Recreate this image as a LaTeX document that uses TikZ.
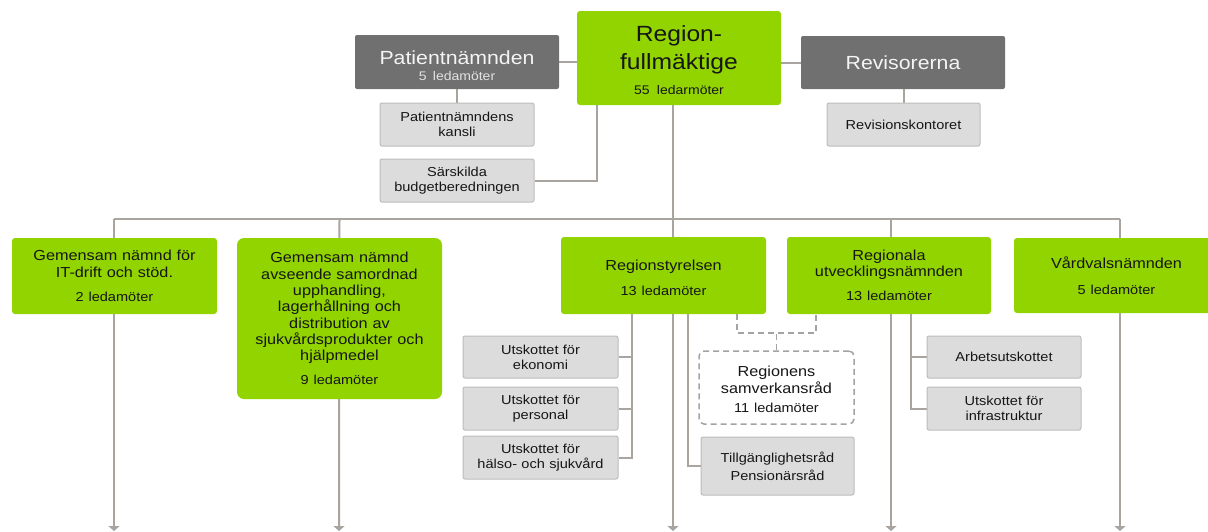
\documentclass[tikz,border=0pt]{standalone}
\usepackage{fontspec}
\setmainfont{Liberation Sans}[FakeStretch=1.12]
\usetikzlibrary{arrows.meta,backgrounds}
\definecolor{grn}{HTML}{92D400}
\definecolor{dgr}{HTML}{707070}
\definecolor{lgr}{HTML}{DCDCDC}
\definecolor{lgb}{HTML}{BDBDBD}
\definecolor{lnc}{HTML}{AAA49F}
\definecolor{dsh}{HTML}{A3A3A3}
\definecolor{txt}{HTML}{161616}
\definecolor{wtx}{HTML}{F4F4F4}
\definecolor{wtxb}{HTML}{E2E2E2}
\newcommand\ledf{\fontsize{13}{15}\selectfont}
\newcommand\ledg{\fontsize{12.5}{15}\selectfont}
\begin{document}
\begin{tikzpicture}[x=1pt,y=-1pt,
 box/.style={inner sep=0pt, align=center, text=txt},
 gbox/.style={box, fill=grn, rounded corners=3pt, font=\fontsize{14.5}{16.3}\selectfont},
 dbox/.style={box, fill=dgr, rounded corners=2pt, text=wtx},
 lbox/.style={box, fill=lgr, draw=lgb, line width=1pt, rounded corners=2pt, font=\fontsize{13}{14.8}\selectfont, text width=150pt},
 sbox/.style={box, draw=dsh, line width=1.5pt, dash pattern=on 6pt off 4pt, rounded corners=5pt},
 conn/.style={draw=lnc, line width=2pt},
 dconn/.style={draw=dsh, line width=1.5pt, dash pattern=on 6pt off 4pt},
 arr/.style={conn, -{Triangle[width=11pt,length=5pt]}},
]
\useasboundingbox (0,0) rectangle (1208,531);

% top level
\node[gbox, minimum width=204pt, minimum height=94pt, text width=195pt, font=\fontsize{22}{28}\selectfont] (rf) at (679,58)
  {\rule{0pt}{20pt}Region-\\fullmäktige\\[-3pt]{\ledg 55 ledarmöter}};
\node[dbox, minimum width=204pt, minimum height=54pt, text width=195pt, font=\fontsize{19}{16.7}\selectfont] (pn) at (457,62)
  {\rule{0pt}{21pt}Patientnämnden\\{\ledg\color{wtxb}5 ledamöter}};
\node[dbox, minimum width=204pt, minimum height=53pt, text width=195pt, font=\fontsize{19}{22}\selectfont] (rev) at (903,62.5)
  {Revisorerna};
\node[lbox, minimum width=154pt, minimum height=43pt] (pk) at (457,124.5) {Patientnämndens\\kansli};
\node[lbox, minimum width=154pt, minimum height=43pt] (sb) at (457,180.5) {Särskilda\\budgetberedningen};
\node[lbox, minimum width=153pt, minimum height=43pt] (rk) at (903.5,124.5) {Revisionskontoret};

% second level
\node[gbox, minimum width=205pt, minimum height=76pt, text width=200pt] (it) at (114.5,276)
  {Gemensam nämnd för\\IT-drift och stöd.\\[8pt]{\ledf 2 ledamöter}};
\node[gbox, rounded corners=7pt, minimum width=205pt, minimum height=161pt, text width=200pt] (gn) at (339.5,318.5)
  {Gemensam nämnd\\avseende samordnad\\upphandling,\\lagerhållning och\\distribution av\\sjukvårdsprodukter och\\hjälpmedel\\[7.5pt]{\ledf 9 ledamöter}};
\node[gbox, minimum width=205pt, minimum height=77pt, text width=200pt] (rs) at (663.5,275.5)
  {\rule{0pt}{15pt}Regionstyrelsen\\[8.5pt]{\ledf 13 ledamöter}};
\node[gbox, minimum width=204pt, minimum height=77pt, text width=200pt] (run) at (889,275.5)
  {Regionala\\utvecklingsnämnden\\[8pt]{\ledf 13 ledamöter}};
\node[gbox, minimum width=205pt, minimum height=75pt, text width=200pt] (vv) at (1116.5,275.5)
  {Vårdvalsnämnden\\[9.5pt]{\ledf 5 ledamöter}};

% third level
\node[lbox, minimum width=155pt, minimum height=42pt] (ue) at (540.5,357) {Utskottet för\\ekonomi};
\node[lbox, minimum width=155pt, minimum height=43pt] (up) at (540.5,408.5) {Utskottet för\\personal};
\node[lbox, minimum width=155pt, minimum height=43pt] (uh) at (540.5,457.5) {Utskottet för\\hälso- och sjukvård};
\node[sbox, minimum width=155pt, minimum height=73pt, text width=150pt, font=\fontsize{14.5}{17}\selectfont] (rsr) at (776.5,387.5)
  {\rule{0pt}{15pt}Regionens\\samverkansråd\\[2pt]{\ledf 11 ledamöter}};
\node[lbox, minimum width=153pt, minimum height=58pt, font=\fontsize{13}{18}\selectfont] (tp) at (777.5,466)
  {Tillgänglighetsråd\\Pensionärsråd};
\node[lbox, minimum width=154pt, minimum height=42pt] (au) at (1004,357) {Arbetsutskottet};
\node[lbox, minimum width=154pt, minimum height=43pt] (ui) at (1004,408.5) {Utskottet för\\infrastruktur};

% guide coordinates
\coordinate (busL) at (114,219);
\coordinate (busR) at (1120,219);
\coordinate (eIT) at (114,531);
\coordinate (eGN) at (339,531);
\coordinate (eTR) at (673,531);
\coordinate (eRU) at (891,531);
\coordinate (eVV) at (1120,531);
\coordinate (dRU) at (891,219);
\coordinate (rfA) at ([xshift=-82pt]rf.south);
\coordinate (rfB) at ([xshift=-6pt]rf.south);
\coordinate (rsA) at ([xshift=-31.5pt]rs.south);
\coordinate (rsB) at ([xshift=24.5pt]rs.south);
\coordinate (rsC) at ([xshift=73.5pt]rs.south);
\coordinate (runC) at ([xshift=-73pt]run.south);
\coordinate (runA) at ([xshift=22pt]run.south);

\begin{scope}[on background layer]
\fill[white] (0,0) rectangle (1208,531);
\draw[conn] (pn.east) -- (rf.west |- pn.east);
\draw[conn] (rev.west) -- (rf.east |- rev.west);
\draw[conn] (pn.south) -- (pk.north);
\draw[conn] (rk.north |- rev.south) -- (rk.north);
\draw[conn] (rfA) |- (sb.east);
\draw[arr] (rfB) -- (eTR);
\draw[conn] (busL) -- (busR);
\draw[arr] (busL) -- (eIT);
\draw[arr] (gn.north |- busL) -- (eGN);
\draw[arr] (dRU) -- (eRU);
\draw[arr] (busR) -- (eVV);
\draw[conn] (rsA) |- (uh.east);
\draw[conn] (ue.east) -- (ue.east -| rsA);
\draw[conn] (up.east) -- (up.east -| rsA);
\draw[conn] (rsB) |- (tp.west);
\draw[dconn] (rsC) -- ++(0,19) -| (runC);
\draw[dconn] (rsr.north) -- ++(0,-18);
\draw[conn] (runA) |- (ui.west);
\draw[conn] (au.west) -- (au.west -| runA);
\end{scope}
\end{tikzpicture}
\end{document}
